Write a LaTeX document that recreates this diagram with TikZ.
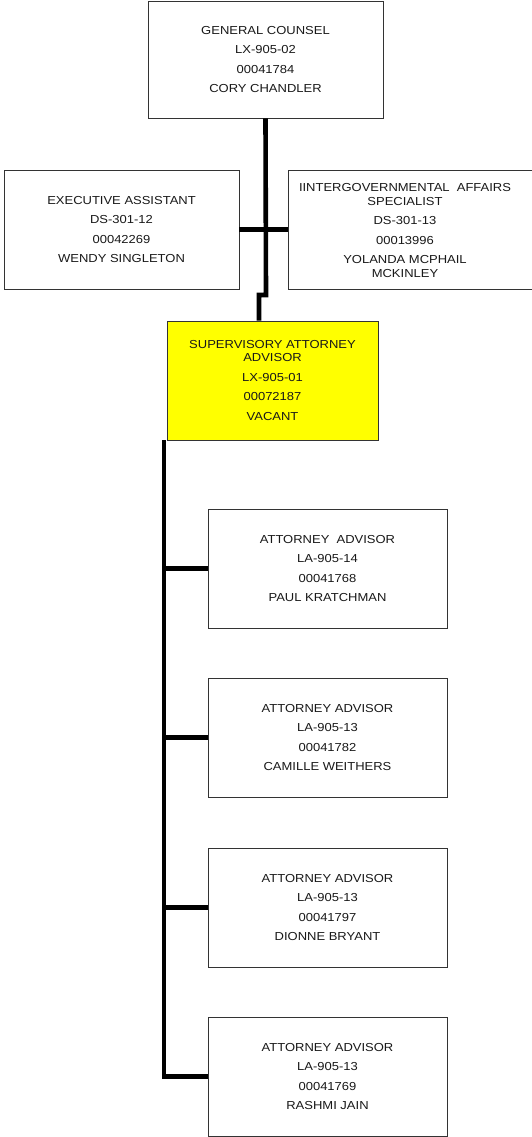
\documentclass[tikz,border=0pt]{standalone}
\usepackage{fontspec}
\setmainfont[FakeStretch=1.12]{Liberation Sans}
\begin{document}
\begin{tikzpicture}[x=1pt,y=-1pt,
  posbox/.style={draw=black!80, line width=0.8pt, fill=white, inner sep=0pt,
    align=center, font=\fontsize{11.6}{13.5}\selectfont, text=black!90},
  plain/.style={inner sep=0pt, align=center, font=\fontsize{11.6}{13.5}\selectfont, text=black!90},
  link/.style={line width=4.6pt, black}]
\useasboundingbox (0,0) rectangle (531,1137);

% General counsel
\node[posbox, minimum width=235pt, minimum height=117pt] (gc) at (265.5,59.5)
  {GENERAL COUNSEL\\[6pt]LX-905-02\\[6pt]00041784\\[6pt]CORY CHANDLER};

% Staff positions
\node[posbox, minimum width=235pt, minimum height=119pt] (ea) at (121.5,229.5)
  {EXECUTIVE ASSISTANT\\[6pt]DS-301-12\\[6pt]00042269\\[6pt]WENDY SINGLETON};
\node[posbox, minimum width=252pt, minimum height=119pt] (isa) at (414,229.5) {};
\node[plain] (isatext) at (405,230.5)
  {IINTERGOVERNMENTAL\ \ AFFAIRS\\SPECIALIST\\[6pt]DS-301-13\\[6pt]00013996\\[6pt]YOLANDA MCPHAIL\\MCKINLEY};

% Supervisory attorney
\node[posbox, fill={rgb,255:red,255;green,255;blue,0}, minimum width=211pt, minimum height=119pt] (sup) at (272.5,380.5)
  {SUPERVISORY ATTORNEY\\ADVISOR\\[6pt]LX-905-01\\[6pt]00072187\\[6pt]VACANT};

% Attorney advisors
\node[posbox, minimum width=239pt, minimum height=119pt] (aa1) at (327.5,568.5)
  {ATTORNEY\ \ ADVISOR\\[6pt]LA-905-14\\[6pt]00041768\\[6pt]PAUL KRATCHMAN};
\node[posbox, minimum width=239pt, minimum height=119pt] (aa2) at (327.5,737.5)
  {ATTORNEY ADVISOR\\[6pt]LA-905-13\\[6pt]00041782\\[6pt]CAMILLE WEITHERS};
\node[posbox, minimum width=239pt, minimum height=119pt] (aa3) at (327.5,907.5)
  {ATTORNEY ADVISOR\\[6pt]LA-905-13\\[6pt]00041797\\[6pt]DIONNE BRYANT};
\node[posbox, minimum width=239pt, minimum height=119pt] (aa4) at (327.5,1076.5)
  {ATTORNEY ADVISOR\\[6pt]LA-905-13\\[6pt]00041769\\[6pt]RASHMI JAIN};

% Connectors
\coordinate (jog) at (266,295);
\coordinate (spine) at ([xshift=-2.5pt]sup.south west);
\draw[link] (gc.south) -- (jog) -- ++(-7,0) |- ([xshift=-13.5pt]sup.north);
\draw[link] (ea.east) -- (isa.west);
\draw[link] (spine) |- (aa4.west);
\draw[link] (aa1.west) -- (aa1.west -| spine);
\draw[link] (aa2.west) -- (aa2.west -| spine);
\draw[link] (aa3.west) -- (aa3.west -| spine);
\end{tikzpicture}
\end{document}
